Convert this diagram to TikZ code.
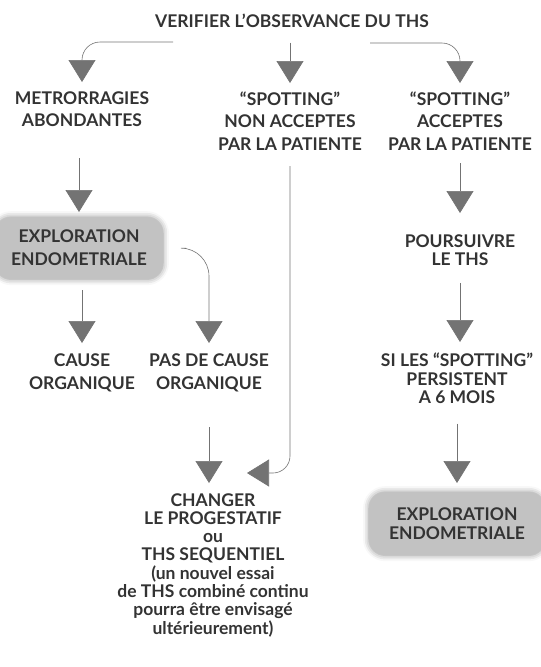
\documentclass[tikz,border=0pt]{standalone}
\usepackage{fontspec}
\setmainfont{Lato}
\usetikzlibrary{arrows.meta,shadows.blur}

\tikzset{
  lbl/.style={font=\fontsize{17.5}{#1}\selectfont\bfseries, align=center, inner sep=0pt, anchor=north, text=black!80},
  lbl/.default=20,
  endobox/.style={fill=black!24, rounded corners=16pt, blur shadow={shadow xshift=0pt, shadow yshift=0pt, shadow blur radius=6pt, shadow opacity=45}},
  arr/.style={draw=black!55, line width=0.6pt, -{Triangle[width=27pt,length=22pt,fill=black!55]}},
}

\begin{document}
\begin{tikzpicture}[x=1pt,y=-1pt]
\useasboundingbox (0,0) rectangle (541,667);
% les textes
\node[lbl] (verif) at (292,13.5) {VERIFIER L'OBSERVANCE DU THS};
\node[lbl=22] (metro) at (82,91.5) {METRORRAGIES\\ABONDANTES};
\node[lbl=22.5] (nonacc) at (290,91.5) {``SPOTTING''\\NON ACCEPTES\\PAR LA PATIENTE};
\node[lbl=22.5] (acc) at (460,91.5) {``SPOTTING''\\ACCEPTES\\PAR LA PATIENTE};
\node[lbl=23, endobox, inner xsep=16pt, inner ysep=13pt] (endo1) at (79,217) {EXPLORATION\\ENDOMETRIALE};
\node[lbl=23] (cause) at (82,353.5) {CAUSE\\ORGANIQUE};
\node[lbl=23] (pasde) at (209,353.5) {PAS DE CAUSE\\ORGANIQUE};
\node[lbl=18.3] (changer) at (213,493) {CHANGER\\LE PROGESTATIF\\ou\\THS SEQUENTIEL\\(un nouvel essai\\de THS combiné continu\\pourra être envisagé\\ultérieurement)};
\node[lbl=18] (pours) at (460,235) {POURSUIVRE\\LE THS};
\node[lbl=18.5] (siles) at (457,353) {SI LES ``SPOTTING''\\PERSISTENT\\A 6 MOIS};
\node[lbl=20, endobox, inner xsep=20pt, inner ysep=15pt] (endo2) at (457,492) {EXPLORATION\\ENDOMETRIALE};
% les fleches
\coordinate (vl) at (173,42);
\coordinate (vr) at (370,43);
\coordinate (cin) at (247,473);
\draw[arr, rounded corners=18pt, shorten >=9.5pt] (vl) -| (metro);
\draw[arr, shorten <=15pt, shorten >=8.5pt] (verif.south -| nonacc) -- (nonacc);
\draw[arr, rounded corners=18pt, shorten >=8.5pt] (vr) -| (acc);
\draw[arr, shorten <=31.5pt, shorten >=5pt] (metro.south -| endo1) -- (endo1);
\draw[arr, shorten <=11pt, shorten >=10.5pt] (endo1.south -| cause) -- (cause);
\draw[arr, rounded corners=28pt, shorten <=23pt, shorten >=10.5pt] (endo1) -| (pasde);
\draw[arr, shorten <=35pt, shorten >=10pt] (pasde) -- (pasde |- changer.north);
\draw[arr, rounded corners=17pt, shorten <=15.5pt] (nonacc) |- (cin);
\draw[arr, shorten <=12.5pt, shorten >=22pt] (acc) -- (acc |- pours.north);
\draw[arr, shorten <=16.5pt, shorten >=11pt] (pours) -- (pours |- siles.north);
\draw[arr, shorten <=19.5pt, shorten >=9pt] (siles) -- (endo2);
\end{tikzpicture}
\end{document}
